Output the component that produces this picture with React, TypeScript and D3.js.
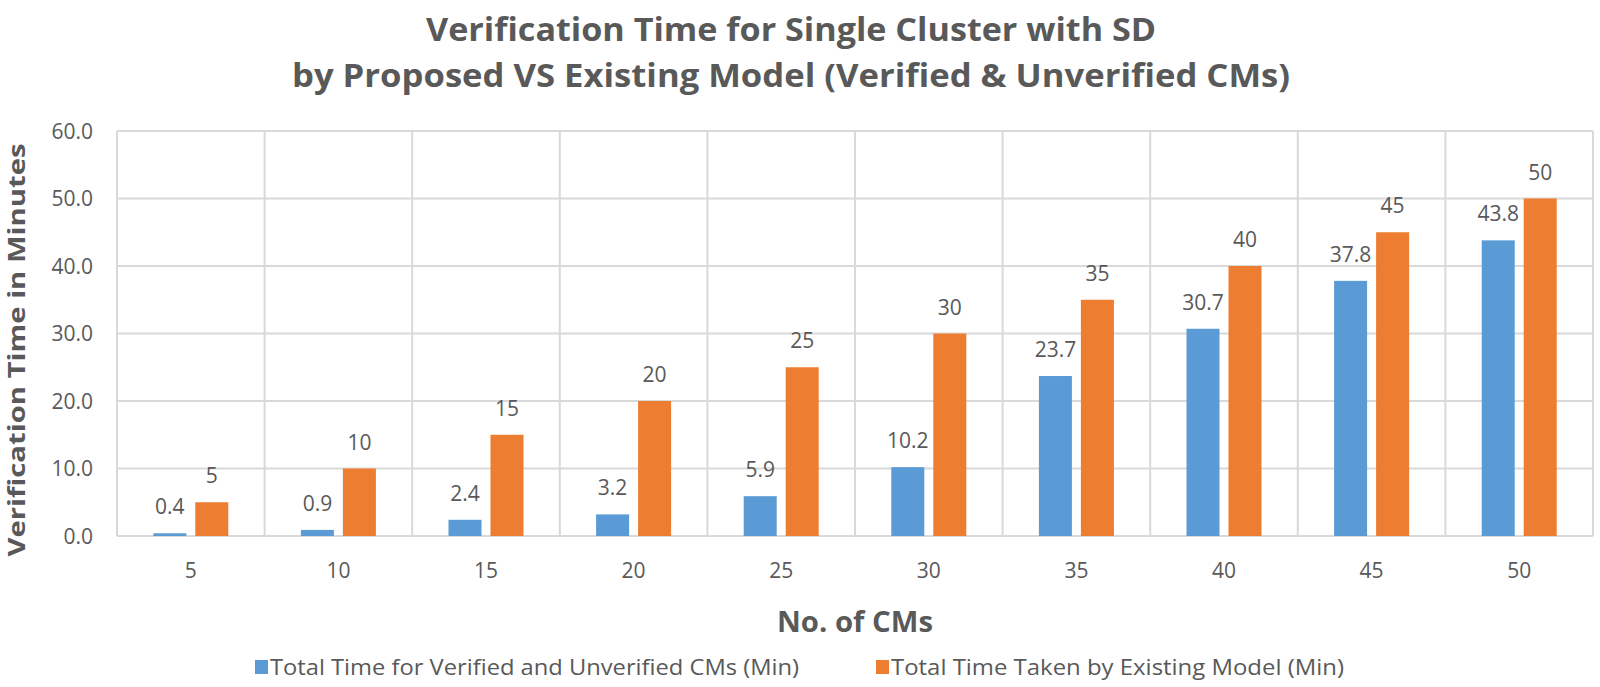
import { useEffect, useRef } from 'react';
import * as d3 from 'd3';

const categories = ['5', '10', '15', '20', '25', '30', '35', '40', '45', '50'];
const proposedValues = [0.4, 0.9, 2.4, 3.2, 5.9, 10.2, 23.7, 30.7, 37.8, 43.8];
const existingValues = [5, 10, 15, 20, 25, 30, 35, 40, 45, 50];
const yTicks = [0, 10, 20, 30, 40, 50, 60];
const seriesNames = [
  'Total Time for Verified and Unverified CMs (Min)',
  'Total Time Taken by Existing Model (Min)',
];
const titleLines = [
  'Verification Time for Single Cluster with SD',
  'by Proposed VS Existing Model (Verified & Unverified CMs)',
];

const WIDTH = 1600;
const HEIGHT = 687;
const colors = ['#5B9BD5', '#ED7D31'];
const textColor = '#595959';
const gridColor = '#D9D9D9';
const font = '"Open Sans", "Noto Sans", sans-serif';

export default function App() {
  const svgRef = useRef<SVGSVGElement>(null);

  useEffect(() => {
    if (!svgRef.current) return;
    const svg = d3.select(svgRef.current);
    svg.selectAll('*').remove();

    const left = 117;
    const right = 1593;
    const top = 131;
    const bottom = 536;

    const x = d3.scaleBand<string>().domain(categories).range([left, right]).padding(0);
    const groupWidth = 75;
    const xInner = d3.scaleBand<number>()
      .domain([0, 1])
      .range([0, groupWidth])
      .paddingInner(9 / 42);
    const y = d3.scaleLinear().domain([0, 60]).range([bottom, top]);

    svg.append('rect').attr('width', WIDTH).attr('height', HEIGHT).attr('fill', '#fff');

    // Title
    const titleWidths = [730, 998];
    const titleBaselines = [41, 87];
    titleLines.forEach((t, i) => {
      svg.append('text')
        .attr('x', 791)
        .attr('y', titleBaselines[i])
        .attr('text-anchor', 'middle')
        .attr('font-family', font)
        .attr('font-weight', 700)
        .attr('font-size', 33)
        .attr('fill', textColor)
        .attr('textLength', titleWidths[i])
        .attr('lengthAdjust', 'spacingAndGlyphs')
        .text(t);
    });

    // Grid
    const g = svg.append('g');
    g.selectAll('.grid-h')
      .data(yTicks)
      .enter()
      .append('line')
      .attr('x1', left)
      .attr('x2', right)
      .attr('y1', d => y(d))
      .attr('y2', d => y(d))
      .attr('stroke', gridColor)
      .attr('stroke-width', 2);

    const boundaries = categories.map(c => x(c) as number).concat([right]);
    g.selectAll('.grid-v')
      .data(boundaries)
      .enter()
      .append('line')
      .attr('x1', d => d)
      .attr('x2', d => d)
      .attr('y1', top)
      .attr('y2', bottom)
      .attr('stroke', gridColor)
      .attr('stroke-width', 2);

    // Bars
    const series = [proposedValues, existingValues];
    const fmts = [d3.format('.1f'), d3.format('d')];
    series.forEach((vals, si) => {
      const bx = (i: number) =>
        (x(categories[i]) as number) + x.bandwidth() / 2 - groupWidth / 2 + (xInner(si) as number);
      g.selectAll(`.bar-${si}`)
        .data(vals)
        .enter()
        .append('rect')
        .attr('x', (_, i) => bx(i))
        .attr('y', d => y(d))
        .attr('width', xInner.bandwidth())
        .attr('height', d => bottom - y(d))
        .attr('fill', colors[si]);

      g.selectAll(`.label-${si}`)
        .data(vals)
        .enter()
        .append('text')
        .attr('x', (_, i) => bx(i) + xInner.bandwidth() / 2)
        .attr('y', d => y(d) - 19)
        .attr('text-anchor', 'middle')
        .attr('font-family', font)
        .attr('font-size', 21)
        .attr('fill', textColor)
        .text(d => fmts[si](d));
    });

    // Y axis labels
    g.selectAll('.ytick')
      .data(yTicks)
      .enter()
      .append('text')
      .attr('x', 93)
      .attr('y', d => y(d))
      .attr('dy', '0.36em')
      .attr('text-anchor', 'end')
      .attr('font-family', font)
      .attr('font-size', 21)
      .attr('fill', textColor)
      .text(d => d3.format('.1f')(d));

    // X axis labels
    g.selectAll('.xtick')
      .data(categories)
      .enter()
      .append('text')
      .attr('x', d => (x(d) as number) + x.bandwidth() / 2)
      .attr('y', 578)
      .attr('text-anchor', 'middle')
      .attr('font-family', font)
      .attr('font-size', 21)
      .attr('fill', textColor)
      .text(d => d);

    // Axis titles
    svg.append('text')
      .attr('x', (left + right) / 2)
      .attr('y', 632)
      .attr('text-anchor', 'middle')
      .attr('font-family', font)
      .attr('font-weight', 700)
      .attr('font-size', 29)
      .attr('fill', textColor)
      .attr('textLength', 156)
      .attr('lengthAdjust', 'spacingAndGlyphs')
      .text('No. of CMs');

    svg.append('text')
      .attr('transform', `translate(25, 350) rotate(-90)`)
      .attr('text-anchor', 'middle')
      .attr('font-family', font)
      .attr('font-weight', 700)
      .attr('font-size', 24)
      .attr('fill', textColor)
      .attr('textLength', 413)
      .attr('lengthAdjust', 'spacingAndGlyphs')
      .text('Verification Time in Minutes');

    // Legend
    const legendX = [255, 876];
    const legendW = [529, 453];
    const legendY = 675;
    seriesNames.forEach((name, i) => {
      svg.append('rect')
        .attr('x', legendX[i])
        .attr('y', legendY - 15)
        .attr('width', 13)
        .attr('height', 14)
        .attr('fill', colors[i]);
      svg.append('text')
        .attr('x', legendX[i] + 15)
        .attr('y', legendY)
        .attr('font-family', font)
        .attr('font-size', 21)
        .attr('fill', textColor)
        .attr('textLength', legendW[i])
        .attr('lengthAdjust', 'spacingAndGlyphs')
        .text(name);
    });
  }, []);

  return (
    <svg
      ref={svgRef}
      width={WIDTH}
      height={HEIGHT}
      style={{ position: 'absolute', left: 0, top: 0, display: 'block' }}
    />
  );
}
